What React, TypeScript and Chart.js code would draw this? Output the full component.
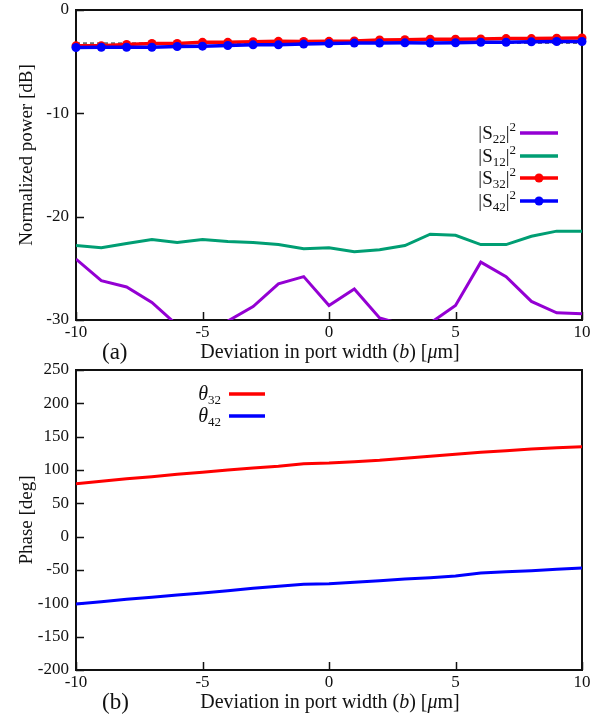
import { useEffect, useRef } from "react";
import { Chart, registerables } from "chart.js";

Chart.register(...registerables);

// Deviation in port width b (µm)
const deviation = [-10, -9, -8, -7, -6, -5, -4, -3, -2, -1, 0, 1, 2, 3, 4, 5, 6, 7, 8, 9, 10];

// (a) normalized power in dB
const s22 = [-24.1, -26.2, -26.8, -28.3, -30.5, -31.0, -30.1, -28.7, -26.5, -25.8, -28.6, -27.0, -29.8, -30.5, -30.3, -28.6, -24.4, -25.8, -28.2, -29.3, -29.4];
const s12 = [-22.8, -23.0, -22.6, -22.2, -22.5, -22.2, -22.4, -22.5, -22.7, -23.1, -23.0, -23.4, -23.2, -22.8, -21.7, -21.8, -22.7, -22.7, -21.9, -21.4, -21.4];
const s32 = [-3.47, -3.47, -3.33, -3.23, -3.23, -3.13, -3.13, -3.07, -3.03, -3.05, -3.03, -3.0, -2.9, -2.87, -2.83, -2.83, -2.8, -2.77, -2.77, -2.73, -2.7];
const s42 = [-3.63, -3.6, -3.6, -3.6, -3.53, -3.5, -3.43, -3.37, -3.37, -3.3, -3.25, -3.2, -3.2, -3.18, -3.2, -3.17, -3.12, -3.12, -3.08, -3.05, -3.05];
const referenceLevelDb = -3.2;

// (b) transmission phase in degrees
const theta32 = [79.5, 83, 87, 90, 93.5, 96.5, 100, 103, 105.5, 109.5, 110.5, 112.5, 114.5, 117.5, 120.5, 123.5, 126.5, 129, 131.5, 133.5, 135];
const theta42 = [-101, -97.5, -94, -91, -87.5, -84.5, -81, -77.5, -74.5, -71.5, -70.5, -68.5, -66, -63.5, -61.5, -59, -54.5, -52.5, -51, -49, -47];

const xTicks = { min: -10, max: 10, step: 5 };
const powerTicks = { min: -30, max: 0, step: 10 };
const phaseTicks = { min: -200, max: 250, step: 50 };

const SERIF = '"Liberation Serif", "Times New Roman", serif';
const INK = "#111";
const PURPLE = "#9400d3";
const GREEN = "#009e73";
const RED = "#ff0000";
const BLUE = "#0000ff";

const W = 601;
const TOP_H = 364;
// the lower canvas starts a little higher so its top tick label has room
const BOTTOM_Y = 350;
const BOTTOM_H = 720 - BOTTOM_Y;
const PLOT_LEFT = 76;
const PLOT_RIGHT = 582;

type Part = { t: string; size: number; dy?: number; italic?: boolean };

function fontOf(p: Part) {
  return `${p.italic ? "italic " : ""}${p.size}px ${SERIF}`;
}

function drawRich(ctx: CanvasRenderingContext2D, parts: Part[], x: number, baseline: number, align: "left" | "center" | "right") {
  let w = 0;
  for (const p of parts) {
    ctx.font = fontOf(p);
    w += ctx.measureText(p.t).width;
  }
  let cx = align === "left" ? x : align === "center" ? x - w / 2 : x - w;
  ctx.textAlign = "left";
  ctx.textBaseline = "alphabetic";
  for (const p of parts) {
    ctx.font = fontOf(p);
    ctx.fillText(p.t, cx, baseline + (p.dy || 0));
    cx += ctx.measureText(p.t).width;
  }
}

const xTitleParts: Part[] = [
  { t: "Deviation in port width (", size: 20 },
  { t: "b", size: 20, italic: true },
  { t: ") [", size: 20 },
  { t: "\u03bc", size: 20, italic: true },
  { t: "m]", size: 20 },
];

type LegendRow = { sub: string; color: string; marker: boolean };

type PanelDeco = {
  yTitle: string;
  yTitleCenter: number;
  panelTag: string;
  kind: "power" | "phase";
  legendRows: number[];
  legend: LegendRow[];
};

function makeDecoPlugin(deco: PanelDeco) {
  return {
    id: "panelDeco",
    beforeDatasetsDraw(chart: any) {
      const { ctx, chartArea } = chart;
      const xs = chart.scales.x;
      const ys = chart.scales.y;
      ctx.save();
      ctx.strokeStyle = INK;
      ctx.lineWidth = 2;
      ctx.strokeRect(chartArea.left, chartArea.top, chartArea.right - chartArea.left, chartArea.bottom - chartArea.top);
      ctx.lineWidth = 1.5;
      ctx.beginPath();
      for (const t of ys.ticks) {
        const py = Math.round(ys.getPixelForValue(t.value)) + 0.5;
        ctx.moveTo(chartArea.left, py);
        ctx.lineTo(chartArea.left + 8, py);
      }
      for (const t of xs.ticks) {
        const px = Math.round(xs.getPixelForValue(t.value)) + 0.5;
        ctx.moveTo(px, chartArea.bottom);
        ctx.lineTo(px, chartArea.bottom - 8);
      }
      ctx.stroke();
      ctx.restore();
    },
    afterDraw(chart: any) {
      const { ctx, chartArea } = chart;
      ctx.save();
      ctx.fillStyle = INK;
      // vertical axis title
      ctx.save();
      ctx.translate(27, deco.yTitleCenter);
      ctx.rotate(-Math.PI / 2);
      ctx.font = `19px ${SERIF}`;
      ctx.textAlign = "center";
      ctx.textBaseline = "middle";
      ctx.fillText(deco.yTitle, 0, 0);
      ctx.restore();
      // horizontal axis title
      const midX = (chartArea.left + chartArea.right) / 2;
      const titleBase = chartArea.bottom + 38;
      drawRich(ctx, xTitleParts, midX + 1, titleBase, "center");
      // panel tag
      ctx.font = `23px ${SERIF}`;
      ctx.textAlign = "left";
      ctx.textBaseline = "alphabetic";
      ctx.fillText(deco.panelTag, 102, titleBase + 1);

      // key
      deco.legend.forEach((row, i) => {
        const cy = deco.legendRows[i];
        ctx.fillStyle = INK;
        if (deco.kind === "power") {
          drawRich(
            ctx,
            [
              { t: "|S", size: 19 },
              { t: row.sub, size: 13, dy: 4 },
              { t: "|", size: 19 },
              { t: "2", size: 13, dy: -8 },
            ],
            516,
            cy + 6,
            "right"
          );
        } else {
          drawRich(
            ctx,
            [
              { t: "\u03b8", size: 20, italic: true },
              { t: row.sub, size: 13, dy: 4 },
            ],
            221,
            cy + 6,
            "right"
          );
        }
        const x0 = deco.kind === "power" ? 520 : 229;
        const x1 = deco.kind === "power" ? 558 : 265;
        ctx.strokeStyle = row.color;
        ctx.lineWidth = 3.5;
        ctx.beginPath();
        ctx.moveTo(x0, cy);
        ctx.lineTo(x1, cy);
        ctx.stroke();
        if (row.marker) {
          ctx.fillStyle = row.color;
          ctx.beginPath();
          ctx.arc((x0 + x1) / 2, cy, 4.5, 0, Math.PI * 2);
          ctx.fill();
        }
      });
      ctx.restore();
    },
  };
}

function pts(ys: number[]) {
  return deviation.map((x, i) => ({ x, y: ys[i] }));
}

function baseOptions(yr: { min: number; max: number; step: number }, h: number, top: number, bottom: number) {
  return {
    responsive: false,
    animation: false as const,
    events: [] as any[],
    layout: { padding: { top, right: W - PLOT_RIGHT, left: 0, bottom: 0 } },
    plugins: { legend: { display: false }, tooltip: { enabled: false } },
    elements: { line: { tension: 0 } },
    scales: {
      x: {
        type: "linear" as const,
        min: xTicks.min,
        max: xTicks.max,
        grid: { display: false, drawTicks: false },
        border: { display: false },
        ticks: {
          stepSize: xTicks.step,
          autoSkip: false,
          maxRotation: 0,
          padding: 2,
          color: INK,
          font: { family: SERIF, size: 17 },
        },
        afterFit: (s: any) => {
          s.height = h - bottom;
          s.paddingLeft = 0;
          s.paddingRight = 0;
        },
      },
      y: {
        type: "linear" as const,
        min: yr.min,
        max: yr.max,
        grid: { display: false, drawTicks: false },
        border: { display: false },
        ticks: {
          stepSize: yr.step,
          autoSkip: false,
          padding: 7,
          color: INK,
          font: { family: SERIF, size: 17 },
        },
        afterFit: (s: any) => {
          s.width = PLOT_LEFT;
          s.paddingTop = 0;
          s.paddingBottom = 0;
        },
      },
    },
  };
}

function PowerPanel() {
  const ref = useRef<HTMLCanvasElement | null>(null);
  useEffect(() => {
    if (!ref.current) return;
    const chart = new Chart(ref.current, {
      type: "line",
      data: {
        datasets: [
          { label: "|S42|^2", data: pts(s42), borderColor: BLUE, backgroundColor: BLUE, borderWidth: 3.5, pointRadius: 4.5, pointBorderWidth: 0, order: 0, clip: false },
          { label: "|S32|^2", data: pts(s32), borderColor: RED, backgroundColor: RED, borderWidth: 3.5, pointRadius: 4.5, pointBorderWidth: 0, order: 1, clip: false },
          { label: "|S12|^2", data: pts(s12), borderColor: GREEN, borderWidth: 3, pointRadius: 0, order: 2 },
          { label: "|S22|^2", data: pts(s22), borderColor: PURPLE, borderWidth: 3, pointRadius: 0, order: 3 },
          {
            label: "reference",
            data: [
              { x: xTicks.min, y: referenceLevelDb },
              { x: xTicks.max, y: referenceLevelDb },
            ],
            borderColor: "#000",
            borderWidth: 1,
            borderDash: [4, 3],
            pointRadius: 0,
            order: 4,
          },
        ],
      },
      options: baseOptions(powerTicks, TOP_H, 10, 320) as any,
      plugins: [
        makeDecoPlugin({
          yTitle: "Normalized power [dB]",
          yTitleCenter: 155,
          panelTag: "(a)",
          kind: "power",
          legendRows: [133, 156, 178, 201],
          legend: [
            { sub: "22", color: PURPLE, marker: false },
            { sub: "12", color: GREEN, marker: false },
            { sub: "32", color: RED, marker: true },
            { sub: "42", color: BLUE, marker: true },
          ],
        }),
      ],
    });
    return () => chart.destroy();
  }, []);
  return <canvas ref={ref} width={W} height={TOP_H} style={{ position: "absolute", left: 0, top: 0, width: W, height: TOP_H }} />;
}

function PhasePanel() {
  const ref = useRef<HTMLCanvasElement | null>(null);
  useEffect(() => {
    if (!ref.current) return;
    const chart = new Chart(ref.current, {
      type: "line",
      data: {
        datasets: [
          { label: "theta32", data: pts(theta32), borderColor: RED, borderWidth: 3, pointRadius: 0 },
          { label: "theta42", data: pts(theta42), borderColor: BLUE, borderWidth: 3, pointRadius: 0 },
        ],
      },
      options: baseOptions(phaseTicks, BOTTOM_H, 370 - BOTTOM_Y, 670 - BOTTOM_Y) as any,
      plugins: [
        makeDecoPlugin({
          yTitle: "Phase [deg]",
          yTitleCenter: 520 - BOTTOM_Y,
          panelTag: "(b)",
          kind: "phase",
          legendRows: [394 - BOTTOM_Y, 416 - BOTTOM_Y],
          legend: [
            { sub: "32", color: RED, marker: false },
            { sub: "42", color: BLUE, marker: false },
          ],
        }),
      ],
    });
    return () => chart.destroy();
  }, []);
  return <canvas ref={ref} width={W} height={BOTTOM_H} style={{ position: "absolute", left: 0, top: BOTTOM_Y, width: W, height: BOTTOM_H }} />;
}

export default function App() {
  return (
    <div style={{ position: "absolute", left: 0, top: 0, width: W, height: 720, background: "#fff" }}>
      <PowerPanel />
      <PhasePanel />
    </div>
  );
}
